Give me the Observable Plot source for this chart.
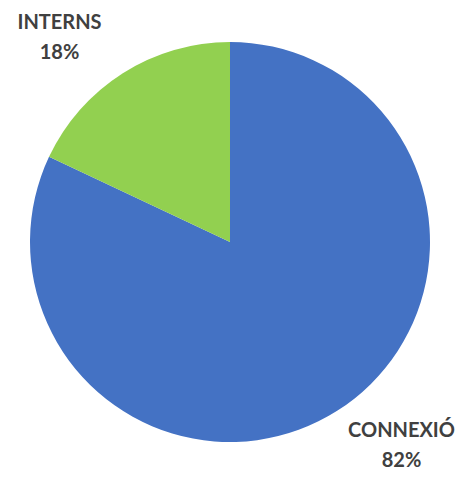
<!DOCTYPE html>
<html>
<head>
<meta charset="utf-8">
<script src="https://cdn.jsdelivr.net/npm/d3@7"></script>
<script src="https://cdn.jsdelivr.net/npm/@observablehq/plot@0.6"></script>
<style>
  html, body { margin: 0; padding: 0; background: #ffffff; }
  #chart svg { display: block; }
</style>
</head>
<body>
<div id="chart"></div>
<script>
const categories = ["CONNEXIÓ", "INTERNS"];
const values = [82, 18];
const percentLabels = ["82%", "18%"];
const colors = ["#4472C4", "#92D050"];

const data = categories.map((c, i) => ({category: c, value: values[i], label: percentLabels[i], color: colors[i]}));

// layout (label anchor positions in pie-radius units, relative to the pie centre)
const labelPos = {
  "CONNEXIÓ": {x: 0.855, y: -1.0},
  "INTERNS": {x: -0.855, y: 1.04}
};
const labelData = data.map(d => ({text: d.category + "\n" + d.label, x: labelPos[d.category].x, y: labelPos[d.category].y}));

const W = 461, H = 477, cx = 230, cy = 242, R = 200;

const pieMark = (index, scales) => {
  const g = d3.create("svg:g");
  const x0 = scales.x(0), y0 = scales.y(0);
  const r = scales.x(1) - scales.x(0);
  const arcs = d3.pie().sort(null).value(d => d.value)(data);
  g.attr("transform", `translate(${x0},${y0})`)
    .selectAll("path")
    .data(arcs)
    .join("path")
    .attr("d", d3.arc().innerRadius(0).outerRadius(r))
    .attr("fill", d => d.data.color);
  return g.node();
};

const chart = Plot.plot({
  width: W,
  height: H,
  margin: 0,
  x: {domain: [-cx / R, (W - cx) / R], axis: null},
  y: {domain: [-(H - cy) / R, cy / R], axis: null},
  style: {fontFamily: "Lato, 'Open Sans', sans-serif", background: "#ffffff"},
  marks: [
    pieMark,
    Plot.text(labelData, {
      x: "x", y: "y", text: "text",
      fontSize: 20, fontWeight: "bold", fill: "#404040",
      lineHeight: 1.5, lineAnchor: "middle"
    })
  ]
});
document.getElementById("chart").appendChild(chart);
</script>
</body>
</html>
